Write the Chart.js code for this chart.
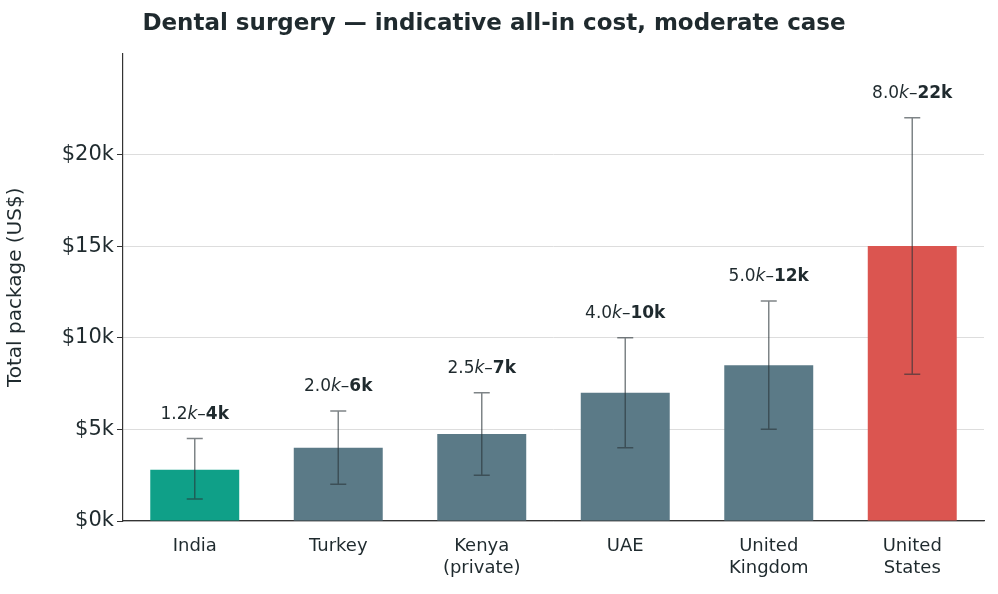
<!DOCTYPE html>
<html><head><meta charset="utf-8">
<script src="https://cdn.jsdelivr.net/npm/chart.js@4"></script>
<style>html,body{margin:0;background:#fff}#wrap{width:998px;height:594px}</style>
</head><body><div id="wrap"><canvas id="c"></canvas></div>
<script>
const categories = [['India'], ['Turkey'], ['Kenya', '(private)'], ['UAE'], ['United', 'Kingdom'], ['United', 'States']];
const midCost = [2.8, 4.0, 4.75, 7.0, 8.5, 15.0];
const lowCost = [1.2, 2.0, 2.5, 4.0, 5.0, 8.0];
const highCost = [4.5, 6.0, 7.0, 10.0, 12.0, 22.0];
const lowLabel = ['1.2', '2.0', '2.5', '4.0', '5.0', '8.0'];
const highLabel = ['4k', '6k', '7k', '10k', '12k', '22k'];
const barColors = ['#0fa088', '#5b7a87', '#5b7a87', '#5b7a87', '#5b7a87', '#db5550'];
const yTicks = [0, 5, 10, 15, 20];
const ink = '#1f2a2e';
const FONT = 'DejaVu Sans';

const errorBars = {
  id: 'errorBars',
  afterDatasetsDraw(chart) {
    const { ctx, scales: { x, y } } = chart;
    ctx.save();
    ctx.strokeStyle = 'rgba(40,50,55,0.6)';
    ctx.lineWidth = 1.5;
    midCost.forEach((_, i) => {
      const px = x.getPixelForValue(i);
      const yl = y.getPixelForValue(lowCost[i]), yh = y.getPixelForValue(highCost[i]);
      ctx.beginPath();
      ctx.moveTo(px, yl); ctx.lineTo(px, yh);
      ctx.moveTo(px - 8, yl); ctx.lineTo(px + 8, yl);
      ctx.moveTo(px - 8, yh); ctx.lineTo(px + 8, yh);
      ctx.stroke();
      const partA = lowLabel[i], partK = 'k', partD = '–', partB = highLabel[i];
      const fA = `17px "${FONT}"`, fK = `italic 17px "${FONT}"`, fB = `bold 17px "${FONT}"`;
      ctx.font = fA; const wA = ctx.measureText(partA).width, wD = ctx.measureText(partD).width;
      ctx.font = fK; const wK = ctx.measureText(partK).width;
      ctx.font = fB; const wB = ctx.measureText(partB).width;
      let cx = px - (wA + wK + wD + wB) / 2;
      const ty = yh - 20;
      ctx.fillStyle = ink; ctx.textBaseline = 'alphabetic'; ctx.textAlign = 'left';
      ctx.font = fA; ctx.fillText(partA, cx, ty); cx += wA;
      ctx.font = fK; ctx.fillText(partK, cx, ty); cx += wK;
      ctx.font = fA; ctx.fillText(partD, cx, ty); cx += wD;
      ctx.font = fB; ctx.fillText(partB, cx, ty);
    });
    ctx.restore();
  }
};

new Chart(document.getElementById('c'), {
  type: 'bar',
  data: {
    labels: categories,
    datasets: [{ data: midCost, backgroundColor: barColors, barPercentage: 0.62, categoryPercentage: 1 }]
  },
  options: {
    responsive: true, maintainAspectRatio: false, animation: false,
    layout: { padding: { left: 4, right: 14, top: 0, bottom: 0 } },
    plugins: {
      legend: { display: false }, tooltip: { enabled: false },
      title: { display: true, text: 'Dental surgery — indicative all-in cost, moderate case', color: ink,
        font: { family: FONT, size: 23, weight: 'bold' }, padding: { top: 10, bottom: 16 } }
    },
    scales: {
      x: {
        grid: { display: false },
        border: { color: '#333', width: 1.2 },
        ticks: { color: ink, font: { family: FONT, size: 18, lineHeight: 1.25 }, padding: 6 },
        afterFit: (s) => { s.height = 73; }
      },
      y: {
        min: 0, max: 25.5,
        afterBuildTicks: (s) => { s.ticks = yTicks.map((v) => ({ value: v })); },
        afterFit: (s) => { s.width = 119; },
        grid: { color: '#dddddd', drawTicks: true, tickColor: '#333', tickLength: 6 },
        border: { color: '#333', width: 1.2 },
        ticks: { color: ink, font: { family: FONT, size: 21 }, callback: (v) => '$' + v + 'k' },
        title: { display: true, text: 'Total package (US$)', color: ink, font: { family: FONT, size: 20 }, padding: 0 }
      }
    }
  },
  plugins: [errorBars]
});
</script></body></html>
